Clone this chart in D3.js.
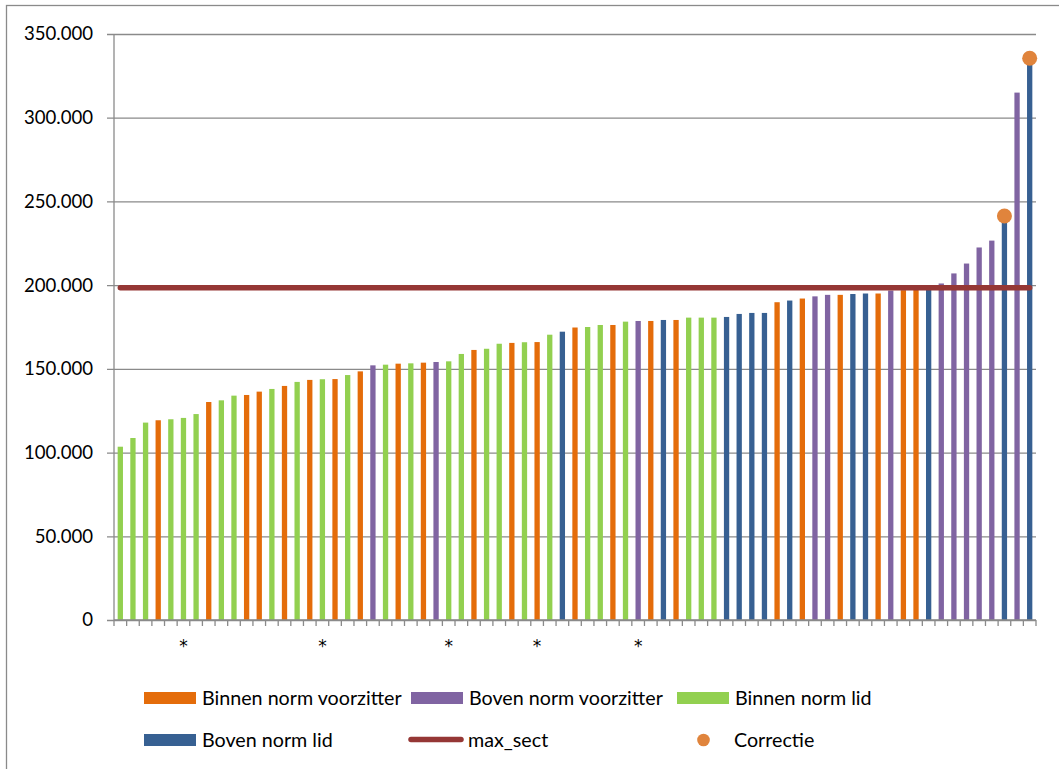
<!DOCTYPE html>
<html>
<head>
<meta charset="utf-8">
<script src="https://cdn.jsdelivr.net/npm/d3@7"></script>
<style>
  html, body { margin: 0; padding: 0; background: #fff; }
  svg { display: block; }
  text { font-family: Lato, "Open Sans", sans-serif; fill: #000; }
</style>
</head>
<body>
<svg id="chart" width="1059" height="769"></svg>
<script>
// ---- data ----
const seriesNames = ["Binnen norm voorzitter", "Boven norm voorzitter", "Binnen norm lid", "Boven norm lid"];
const seriesColors = ["#E46C0A", "#8064A2", "#92D050", "#376092"];
// series index of each bar: 0 = Binnen norm voorzitter, 1 = Boven norm voorzitter, 2 = Binnen norm lid, 3 = Boven norm lid
const barSeries = [
  2,2,2,0,2,2,2,0,2,2,
  0,0,2,0,2,0,2,0,2,0,
  1,2,0,2,0,1,2,2,0,2,
  2,0,2,0,2,3,0,2,2,0,
  2,1,0,3,0,2,2,2,3,3,
  3,3,0,3,0,1,1,0,3,3,
  0,1,0,0,3,1,1,1,1,1,
  3,1,3
];
const barValues = [
  103500,108700,117900,119300,119900,120700,123000,130200,131200,134000,
  134400,136400,138000,139800,142200,143400,143800,143900,146300,148500,
  152100,152500,153100,153300,153700,154100,154500,158900,161300,162000,
  165000,165500,165900,166000,170400,172200,174700,175000,176200,176200,
  178200,178600,178600,179200,179200,180600,180600,180600,181000,182800,
  183400,183400,189800,190800,192000,193300,194200,194200,194700,195000,
  195000,196800,197000,197300,197600,201000,207000,212900,222500,226600,
  237400,315000,331700
];
const categoryLabels = barValues.map(() => "");
[5, 16, 26, 33, 41].forEach(i => categoryLabels[i] = "*");
const maxSect = 198400;
const correctie = [{ index: 70, value: 241300 }, { index: 72, value: 335500 }];
const yTicks = [0, 50000, 100000, 150000, 200000, 250000, 300000, 350000];

// ---- layout ----
const svg = d3.select("#chart");
const plot = { left: 114, right: 1036, top: 34, bottom: 620 };

// outer chart border (right/bottom edges lie outside the window)
svg.append("rect")
  .attr("x", 6.5).attr("y", 5.5).attr("width", 1100).attr("height", 800)
  .attr("fill", "none").attr("stroke", "#8a8a8a").attr("stroke-width", 1.3);

const cats = d3.range(barValues.length);
const x = d3.scaleBand().domain(cats).range([plot.left, plot.right])
  .paddingInner(0.58).paddingOuter(0.29);
const step = x.step();
const xc = i => x(i) + x.bandwidth() / 2;
const y = d3.scaleLinear().domain([0, 350000]).range([plot.bottom, plot.top]);

const fmt = v => v === 0 ? "0" : d3.format(",")(v).replace(/,/g, ".");

// gridlines + y axis
const yAxis = d3.axisLeft(y).tickValues(yTicks).tickFormat(fmt)
  .tickSize(-(plot.right - plot.left)).tickPadding(21);
const gy = svg.append("g").attr("transform", `translate(${plot.left},0)`).call(yAxis);
gy.select(".domain").remove();
gy.selectAll(".tick line").attr("stroke", "#8a8a8a").attr("stroke-width", 1.3)
  .attr("x1", -7);
gy.selectAll(".tick text").attr("font-size", 18.6).attr("font-family", "Lato, sans-serif")
  .attr("fill", "#000");

// y axis line
svg.append("line").attr("x1", plot.left).attr("x2", plot.left)
  .attr("y1", plot.top).attr("y2", plot.bottom)
  .attr("stroke", "#8a8a8a").attr("stroke-width", 1.3);

// bars
svg.append("g").selectAll("rect").data(cats).join("rect")
  .attr("x", i => x(i))
  .attr("width", x.bandwidth())
  .attr("y", i => y(barValues[i]))
  .attr("height", i => y(0) - y(barValues[i]))
  .attr("fill", i => seriesColors[barSeries[i]]);

// x axis with ticks at category boundaries
const gx = svg.append("g");
gx.append("line").attr("x1", plot.left).attr("x2", plot.right)
  .attr("y1", plot.bottom).attr("y2", plot.bottom)
  .attr("stroke", "#8a8a8a").attr("stroke-width", 1.3);
gx.selectAll("line.tk").data(d3.range(barValues.length + 1)).join("line")
  .attr("class", "tk")
  .attr("x1", k => plot.left + k * step).attr("x2", k => plot.left + k * step)
  .attr("y1", plot.bottom).attr("y2", plot.bottom + 6)
  .attr("stroke", "#8a8a8a").attr("stroke-width", 1.3);
gx.selectAll("text").data(cats.filter(i => categoryLabels[i] !== "")).join("text")
  .attr("x", i => xc(i)).attr("y", 652)
  .attr("text-anchor", "middle").attr("font-size", 17)
  .style("font-family", "'DejaVu Sans', sans-serif")
  .style("fill", "#000")
  .text(i => categoryLabels[i]);

// max_sect line
svg.append("line")
  .attr("x1", xc(0)).attr("x2", xc(barValues.length - 1))
  .attr("y1", y(maxSect)).attr("y2", y(maxSect))
  .attr("stroke", "#953735").attr("stroke-width", 5.5).attr("stroke-linecap", "round");

// correctie points
svg.append("g").selectAll("circle").data(correctie).join("circle")
  .attr("cx", d => xc(d.index)).attr("cy", d => y(d.value)).attr("r", 7.5)
  .attr("fill", "#E0843C");

// legend
const lg = svg.append("g");
const fsL = 19.7;
const rectItems = [
  { s: 0, x: 144, y: 698 }, { s: 1, x: 411, y: 698 }, { s: 2, x: 677, y: 698 }, { s: 3, x: 144, y: 740 }
];
rectItems.forEach(it => {
  lg.append("rect").attr("x", it.x).attr("y", it.y - 6).attr("width", 52).attr("height", 12)
    .attr("fill", seriesColors[it.s]);
  lg.append("text").attr("x", it.x + 58).attr("y", it.y).attr("dy", "0.35em")
    .attr("font-size", fsL).text(seriesNames[it.s]);
});
lg.append("line").attr("x1", 411).attr("x2", 461).attr("y1", 739.5).attr("y2", 739.5)
  .attr("stroke", "#953735").attr("stroke-width", 5.5).attr("stroke-linecap", "round");
lg.append("text").attr("x", 468).attr("y", 740).attr("dy", "0.35em").attr("font-size", fsL).text("max_sect");
lg.append("circle").attr("cx", 703.5).attr("cy", 740).attr("r", 6.3).attr("fill", "#E0843C");
lg.append("text").attr("x", 734).attr("y", 740).attr("dy", "0.35em").attr("font-size", fsL).text("Correctie");
</script>
</body>
</html>
